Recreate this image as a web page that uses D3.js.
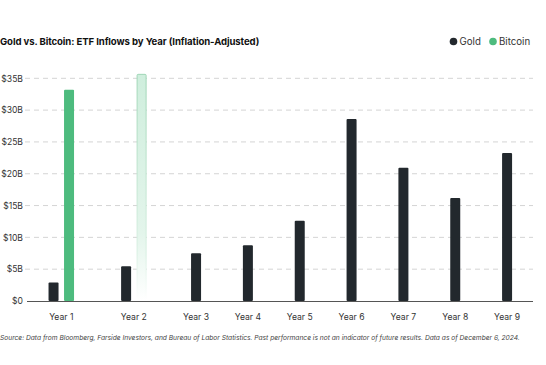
<!DOCTYPE html>
<html><head><meta charset="utf-8">
<script src="https://cdn.jsdelivr.net/npm/d3@7"></script>
<style>
body{margin:0;background:#fff;}
svg{display:block;font-family:Inter, "Noto Sans", sans-serif;}
</style></head>
<body>
<svg id="chart" width="546" height="365"></svg>
<script>
const title = "Gold vs. Bitcoin: ETF Inflows by Year (Inflation-Adjusted)";
const source = "Source: Data from Bloomberg, Farside Investors, and Bureau of Labor Statistics. Past performance is not an indicator of future results. Data as of December 6, 2024.";
const years = ["Year 1","Year 2","Year 3","Year 4","Year 5","Year 6","Year 7","Year 8","Year 9"];
const gold = [2.9, 5.45, 7.5, 8.75, 12.6, 28.6, 20.95, 16.2, 23.25];
const bitcoin = [33.2, 35.7];
const bitcoinProjected = [false, true];
const yTicks = [0, 5, 10, 15, 20, 25, 30, 35];

const svg = d3.select("#chart");
const colGold = "#22282d", colBtc = "#4dbb7e";

const y = d3.scaleLinear().domain([0, 35]).range([301, 78.3]);

// year band weights based on number of bars
const nBars = years.map((d,i) => 1 + (bitcoin[i] != null ? 1 : 0));
const weights = nBars.map(n => 1 + 0.4*(n-1));
const cum = [0]; weights.forEach(w => cum.push(cum[cum.length-1] + w));
const xu = d3.scaleLinear().domain([0, cum[cum.length-1]]).range([25, 533]);
const center = years.map((d,i) => xu(cum[i] + weights[i]/2));
const x = d3.scaleOrdinal().domain(years).range(center);
const barW = 10, gap = 5.5;

// title & legend
svg.append("text").attr("x", 0).attr("y", 45).attr("font-size", 9.6).attr("font-weight", 700)
  .attr("letter-spacing", -0.1).attr("fill", "#111").text(title);
const legend = [{k:"Gold", c:colGold, x:453.5}, {k:"Bitcoin", c:colBtc, x:493}];
const lg = svg.append("g").selectAll("g").data(legend).join("g");
lg.append("circle").attr("cx", d=>d.x).attr("cy", 41.5).attr("r", 3.8).attr("fill", d=>d.c);
lg.append("text").attr("x", d=>d.x+6).attr("y", 45).attr("font-size", 9.7).attr("fill", "#333").text(d=>d.k);

// gridlines
svg.append("g").selectAll("line").data(yTicks.filter(t=>t>0)).join("line")
  .attr("x1", 25).attr("x2", 533).attr("y1", d=>y(d)).attr("y2", d=>y(d))
  .attr("stroke", "#d4d4d4").attr("stroke-width", 1).attr("stroke-dasharray", "5,4");

// y axis
const yAxis = svg.append("g").attr("transform", "translate(23,0)")
  .call(d3.axisLeft(y).tickValues(yTicks).tickSize(0).tickPadding(0)
    .tickFormat(d => d === 0 ? "$0" : "$" + d + "B"));
yAxis.select(".domain").remove();
yAxis.selectAll("text").attr("font-size", 8.6).attr("fill", "#333").attr("font-family", "Inter, sans-serif");

// gradient for projected bar
const defs = svg.append("defs");
const gf = defs.append("linearGradient").attr("id","fadeFill").attr("x1",0).attr("y1",0).attr("x2",0).attr("y2",1);
gf.append("stop").attr("offset","0%").attr("stop-color","#cfeedd");
gf.append("stop").attr("offset","70%").attr("stop-color","#e3f5eb");
gf.append("stop").attr("offset","100%").attr("stop-color","#ffffff");
const gs = defs.append("linearGradient").attr("id","fadeStroke").attr("x1",0).attr("y1",0).attr("x2",0).attr("y2",1);
gs.append("stop").attr("offset","0%").attr("stop-color","#9fd6b6");
gs.append("stop").attr("offset","80%").attr("stop-color","#d9f0e3");
gs.append("stop").attr("offset","100%").attr("stop-color","#ffffff");

// bars
const groupW = i => nBars[i]*barW + (nBars[i]-1)*gap;
svg.append("g").selectAll("rect").data(gold).join("rect")
  .attr("x", (d,i) => x(years[i]) - groupW(i)/2)
  .attr("y", d => y(d)).attr("width", barW).attr("height", d => y(0) - y(d))
  .attr("fill", colGold).attr("rx", 1);
svg.append("g").selectAll("rect").data(bitcoin).join("rect")
  .attr("x", (d,i) => x(years[i]) - groupW(i)/2 + barW + gap + (bitcoinProjected[i] ? 0.5 : 0))
  .attr("y", (d,i) => y(d) + (bitcoinProjected[i] ? 0.5 : 0))
  .attr("width", (d,i) => bitcoinProjected[i] ? barW - 1 : barW)
  .attr("height", (d,i) => y(0) - y(d) - (bitcoinProjected[i] ? 1 : 0))
  .attr("fill", (d,i) => bitcoinProjected[i] ? "url(#fadeFill)" : colBtc)
  .attr("stroke", (d,i) => bitcoinProjected[i] ? "url(#fadeStroke)" : "none")
  .attr("stroke-width", 1).attr("rx", 1);

// baseline
svg.append("line").attr("x1", 27).attr("x2", 533).attr("y1", y(0)+0.5).attr("y2", y(0)+0.5)
  .attr("stroke", "#555").attr("stroke-width", 1);

// x labels
svg.append("g").selectAll("text").data(years).join("text")
  .attr("x", d => x(d)).attr("y", 320).attr("text-anchor", "middle")
  .attr("font-size", 8.6).attr("fill", "#333").text(d => d);

// source
svg.append("text").attr("x", 0).attr("y", 340).attr("font-size", 6.65).attr("font-style", "italic")
  .attr("fill", "#444").text(source);
</script>
</body></html>
